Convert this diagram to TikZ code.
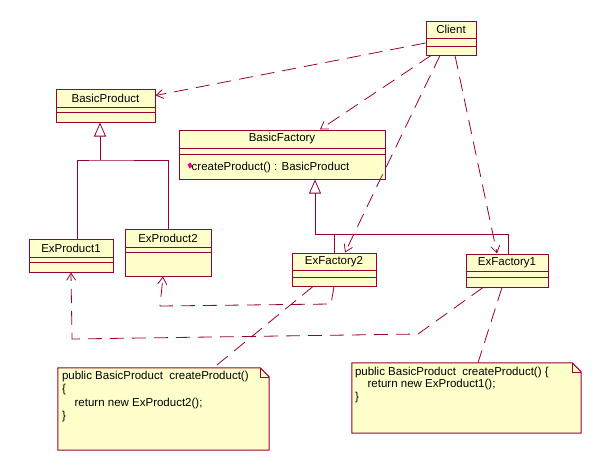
\documentclass[tikz,border=0pt]{standalone}
\usepackage{fontspec}
\setmainfont{Liberation Sans}
\usetikzlibrary{arrows.meta, calc}
\definecolor{umlline}{RGB}{153,0,51}
\definecolor{umlfill}{RGB}{255,255,204}
\tikzset{%
  cls/.style      = {draw = umlline, fill = umlfill, line width = 1pt,
    rectangle, inner sep = 0pt}, % class box
  clsline/.style  = {draw = umlline, line width = 1pt}, % compartment
  clsname/.style  = {inner sep = 0pt, font = \fontsize{11.5}{13}\selectfont},
  notebox/.style  = {inner sep = 0pt}, % note area
  notetext/.style = {inner sep = 0pt, anchor = north west, align = left,
    font = \fontsize{11.5}{13.5}\selectfont},
  dep/.style      = {draw = umlline, line width = 0.8pt,
    dash pattern = on 14pt off 8pt, -{Straight Barb[length = 7pt, width = 9pt]}},
  notelink/.style = {draw = umlline, line width = 0.8pt,
    dash pattern = on 14pt off 8pt},
  inherit/.style  = {draw = umlline, line width = 0.8pt,
    -{Triangle[open, fill = white, length = 14pt, width = 12pt]}}
}

\begin{document}
\begin{tikzpicture}[x = 1pt, y = -1pt]
\useasboundingbox (0,0) rectangle (612,471);
%classes
\draw
  (451,38) node [cls, minimum width = 50pt, minimum height = 34pt] (client) {}
  (105.5,105.5) node [cls, minimum width = 99pt, minimum height = 33pt] (basicprod) {}
  (282,154.5) node [cls, minimum width = 206pt, minimum height = 49pt] (basicfac) {}
  (71,255.5) node [cls, minimum width = 84pt, minimum height = 33pt] (exprod1) {}
  (168,252.5) node [cls, minimum width = 86pt, minimum height = 47pt] (exprod2) {}
  (334,269.5) node [cls, minimum width = 84pt, minimum height = 33pt] (exfac2) {}
  (507,270.5) node [cls, minimum width = 82pt, minimum height = 33pt] (exfac1) {};
%compartments
\draw[clsline] ($(client.north west)+(0,18)$) -- ++(50,0);
\draw[clsline] ($(client.north west)+(0,26)$) -- ++(50,0);
\draw[clsline] ($(basicprod.north west)+(0,19)$) -- ++(99,0);
\draw[clsline] ($(basicprod.north west)+(0,24)$) -- ++(99,0);
\draw[clsline] ($(basicfac.north west)+(0,19)$) -- ++(206,0);
\draw[clsline] ($(basicfac.north west)+(0,25)$) -- ++(206,0);
\draw[clsline] ($(exprod1.north west)+(0,19)$) -- ++(84,0);
\draw[clsline] ($(exprod1.north west)+(0,24)$) -- ++(84,0);
\draw[clsline] ($(exprod2.north west)+(0,19)$) -- ++(86,0);
\draw[clsline] ($(exprod2.north west)+(0,24)$) -- ++(86,0);
\draw[clsline] ($(exfac2.north west)+(0,18)$) -- ++(84,0);
\draw[clsline] ($(exfac2.north west)+(0,25)$) -- ++(84,0);
\draw[clsline] ($(exfac1.north west)+(0,18)$) -- ++(82,0);
\draw[clsline] ($(exfac1.north west)+(0,24)$) -- ++(82,0);
%names
\node[clsname] (clientname) at ($(client.north)+(0,9)$) {Client};
\node[clsname] (basicprodname) at ($(basicprod.north)+(0,9.5)$) {BasicProduct};
\node[clsname] (basicfacname) at ($(basicfac.north)+(0,9.5)$) {BasicFactory};
\node[clsname] (exprod1name) at ($(exprod1.north)+(0,9.5)$) {ExProduct1};
\node[clsname] (exprod2name) at ($(exprod2.north)+(0,9.5)$) {ExProduct2};
\node[clsname] (exfac2name) at ($(exfac2.north)+(0,9)$) {ExFactory2};
\node[clsname] (exfac1name) at ($(exfac1.north)+(0,9)$) {ExFactory1};
\fill[magenta] ($(basicfac.north west)+(9,35)$) -- ++(3,-2) -- ++(2,4) -- ++(-3,2) -- cycle;
\node[clsname, anchor = west] (createop) at ($(basicfac.north west)+(13,38)$)
  {createProduct() : BasicProduct};
%notes
\node[notebox, minimum width = 211pt, minimum height = 82pt] (note2) at (163.5,409) {};
\node[notebox, minimum width = 229pt, minimum height = 70pt] (note1) at (466.5,398) {};
\foreach \n in {note1, note2} {
  \draw[clsline, fill = umlfill] (\n.north west) -- ([xshift = -9pt]\n.north east)
    -- ([yshift = -9pt]\n.north east) -- (\n.south east) -- (\n.south west) -- cycle;
  \draw[umlline, line width = 0.6pt] ([xshift = -9pt]\n.north east)
    -- ([xshift = -9pt, yshift = -9pt]\n.north east) -- ([yshift = -9pt]\n.north east);
}
\node[notetext] (note2text) at ($(note2.north west)+(4,3)$)
  {public BasicProduct\ \ createProduct()\\ \{\\ \hspace*{1.1em}return new ExProduct2();\\ \}};
\node[notetext, font = \fontsize{11.5}{12.5}\selectfont] (note1text) at ($(note1.north west)+(3,4)$)
  {public BasicProduct\ \ createProduct() \{\\ \hspace*{1.1em}return new ExProduct1();\\ \}};
%inheritance
\coordinate (pjoin) at (100,160);
\coordinate (fjoin) at (315,234);
\draw[inherit] (pjoin) -- (pjoin |- basicprod.south);
\draw[clsline, line width = 0.8pt] ([xshift = 6pt]exprod1.north) |- (pjoin) -| (exprod2.north);
\draw[inherit] (fjoin) -- (fjoin |- basicfac.south);
\draw[clsline, line width = 0.8pt] (fjoin) -| ([xshift = 1pt]exfac1.north);
\draw[clsline, line width = 0.8pt] (exfac2.north) -- (exfac2.north |- fjoin);
%dependencies
\draw[dep] ([yshift = -5pt]client.west) -- ([yshift = 10pt]basicprod.east);
\draw[dep] ([xshift = -20pt]client.south) -- ([xshift = 38pt]basicfac.north);
\draw[dep] ([xshift = -11pt]client.south) -- ([xshift = 11pt]exfac2.north);
\draw[dep] ([xshift = 4pt]client.south) -- ([xshift = -10pt]exfac1.north);
\coordinate (c2a) at (331,304);
\coordinate (c2b) at (160,306);
\draw[dep] (exfac2.south) -- (c2a) -- (c2b) -- ([xshift = -5pt]exprod2.south);
\coordinate (c1a) at (418,334);
\coordinate (c1b) at (72,339);
\draw[dep] ([xshift = -24pt]exfac1.south) -- (c1a) -- (c1b) -- (exprod1.south);
%note links
\draw[notelink] ([xshift = -21pt]exfac2.south) -- ([xshift = 50pt]note2.north);
\draw[notelink] ([xshift = -5pt]exfac1.south) -- ([xshift = 11.5pt]note1.north);
\end{tikzpicture}
\end{document}
